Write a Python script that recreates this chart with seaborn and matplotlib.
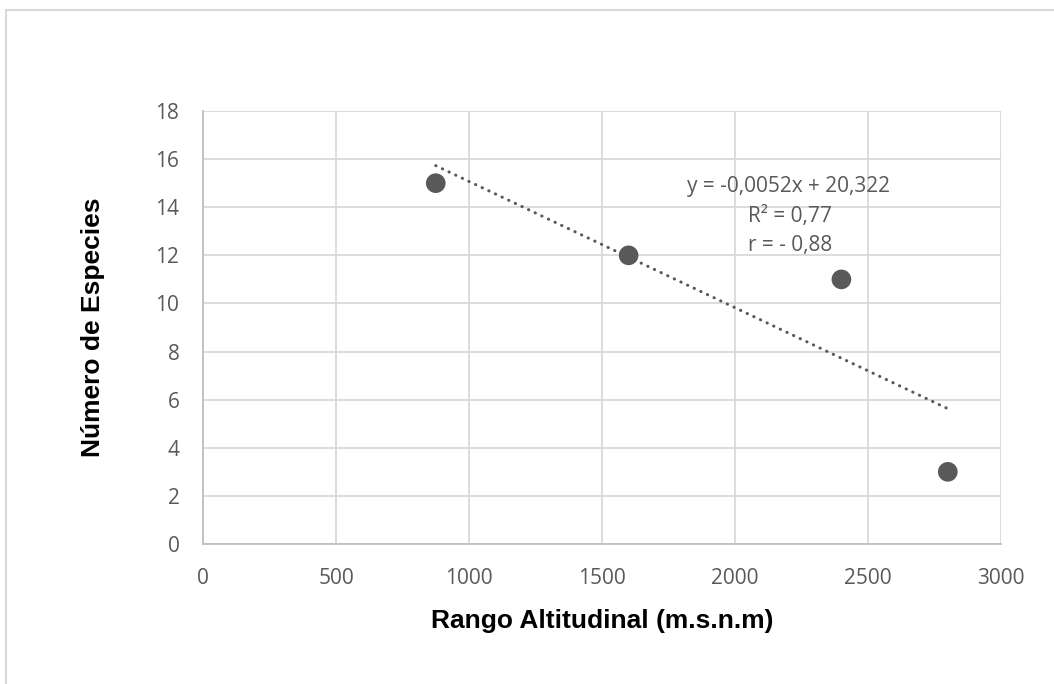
import numpy as np
import pandas as pd
import seaborn as sns
import matplotlib
matplotlib.use("Agg")
import matplotlib.pyplot as plt
from matplotlib.patches import Rectangle

# Data
altitud = [875, 1600, 2400, 2800]
especies = [15, 12, 11, 3]
x_ticks = [0, 500, 1000, 1500, 2000, 2500, 3000]
y_ticks = [0, 2, 4, 6, 8, 10, 12, 14, 16, 18]
eq_lines = ["y = -0,0052x + 20,322", "R² = 0,77", "r = - 0,88"]

df = pd.DataFrame({"Altitud": altitud, "Especies": especies})

sns.set_theme(style="white")
plt.rcParams['font.family'] = ['Open Sans', 'DejaVu Sans']

W, H = 1054, 684
fig = plt.figure(figsize=(W / 100, H / 100), dpi=100)
ax = fig.add_axes([203 / W, 1 - 544 / H, (1001 - 203) / W, (544 - 111) / H])

# figure border
fig.patches.append(Rectangle((6 / W, -0.1), 1.2, 1 - 10 / H + 0.1, transform=fig.transFigure,
                             fill=False, edgecolor="#d9d9d9", linewidth=1.5, zorder=0))

sns.regplot(data=df, x="Altitud", y="Especies", ax=ax, scatter=False, ci=None, truncate=True,
            line_kws=dict(color="#595959", linewidth=2.2, linestyle=(0, (0.1, 2.3)),
                          dash_capstyle="round", zorder=3))
sns.scatterplot(data=df, x="Altitud", y="Especies", ax=ax, s=200, color="#595959",
                edgecolor="none", zorder=4)

ax.set_xlim(0, 3000)
ax.set_ylim(0, 18)
ax.set_xticks(x_ticks)
ax.set_yticks(y_ticks)
ax.grid(True, color="#d9d9d9", linewidth=1.3)
ax.set_axisbelow(True)
for s in ["top", "right"]:
    ax.spines[s].set_visible(False)
for s in ["left", "bottom"]:
    ax.spines[s].set_color("#bfbfbf")
    ax.spines[s].set_linewidth(1.3)
ax.tick_params(axis="both", length=0, labelsize=15, labelcolor="#595959")
ax.tick_params(axis="x", pad=17)
ax.tick_params(axis="y", pad=17)

ax.set_xlabel("Rango Altitudinal (m.s.n.m)", fontsize=19, fontweight="bold",
              family="Liberation Sans", color="black", labelpad=15)
ax.set_ylabel("Número de Especies", fontsize=19, fontweight="bold",
              family="Liberation Sans", color="black", labelpad=36)

ax.text(1820, 14.88, eq_lines[0], fontsize=15, color="#595959", va="center", ha="left")
ax.text(2049, 13.63, eq_lines[1], fontsize=15, color="#595959", va="center", ha="left")
ax.text(2049, 12.39, eq_lines[2], fontsize=15, color="#595959", va="center", ha="left")

fig.savefig("out.png", dpi=100)
